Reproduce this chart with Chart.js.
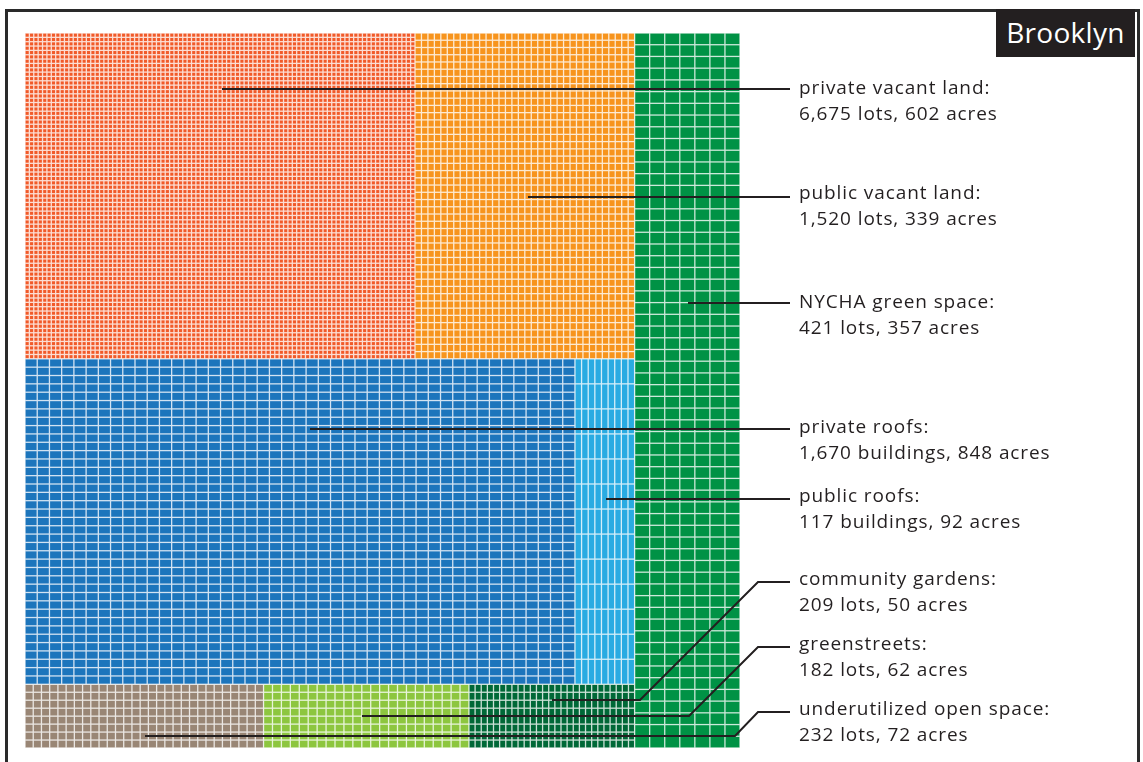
<!DOCTYPE html>
<html>
<head>
<meta charset="utf-8">
<script src="https://cdn.jsdelivr.net/npm/chart.js@4.4.1/dist/chart.umd.min.js"></script>
<style>
html, body { margin:0; padding:0; background:#fff; }
#wrap { position:relative; width:1143px; height:762px; overflow:hidden; }
#frame { position:absolute; left:5px; top:9px; width:1135px; height:800px; border:3px solid #2a2a2a; box-sizing:border-box; }
#title { position:absolute; left:996px; top:9px; width:139px; height:48px; background:#231f20; color:#fff;
  font:28px "Open Sans", sans-serif; line-height:46px; text-align:center; letter-spacing:0.3px; }
#chartBox { position:absolute; left:0; top:0; width:1143px; height:762px; }
</style>
</head>
<body>
<div id="wrap">
  <div id="frame"></div>
  <div id="chartBox"><canvas id="chart"></canvas></div>
  <div id="title">Brooklyn</div>
</div>
<script>
const CATEGORIES = ['private vacant land','public vacant land','NYCHA green space','private roofs','public roofs','community gardens','greenstreets','underutilized open space'];
const LOTS  = [6675, 1520, 421, 1670, 117, 209, 182, 232];
const UNITS = ['lots','lots','lots','buildings','buildings','lots','lots','lots'];
const ACRES = [602, 339, 357, 848, 92, 50, 62, 72];
// grid of small cells inside each block, as counted on the picture
const GRID_COLS = [89, 34, 7, 45, 9, 27, 23, 29];
const GRID_ROWS = [75, 45, 61, 39, 13, 8, 8, 8];
const COLORS = ['#F15A29','#F7941D','#009245','#1C75BC','#29ABE2','#006837','#8DC63F','#998675'];

// treemap structure: NYCHA is a full height column on the right, the rest stacked in rows
const SIDE_COLUMN = 2;
const ROWS = [[0, 1], [3, 4], [7, 6, 5]];

// callout layout (pixels): line start inside the block, optional bend, label text centre
const CALLOUTS = [
  { cat:0, pts:[[222,89],[790,89]], ty:89 },
  { cat:1, pts:[[528,197],[790,197]], ty:194 },
  { cat:2, pts:[[688,303],[790,303]], ty:303 },
  { cat:3, pts:[[310,429],[790,429]], ty:428 },
  { cat:4, pts:[[606,499],[790,499]], ty:497 },
  { cat:5, pts:[[552,700],[640,700],[758,582],[790,582]], ty:580 },
  { cat:6, pts:[[362,716],[689,716],[758,647],[790,647]], ty:645 },
  { cat:7, pts:[[145,736],[735,736],[758,712],[790,712]], ty:710 }
];

function layoutBlocks() {
  const total = ACRES.reduce((s, a) => s + a, 0);
  const rects = [];
  const leftW = 1 - ACRES[SIDE_COLUMN] / total;
  rects[SIDE_COLUMN] = { x0:leftW, x1:1, y0:0, y1:1 };
  const leftTotal = total - ACRES[SIDE_COLUMN];
  let y = 0;
  ROWS.forEach(row => {
    const rowSum = row.reduce((s, i) => s + ACRES[i], 0);
    const h = rowSum / leftTotal;
    let x = 0;
    row.forEach(i => {
      const w = ACRES[i] / rowSum * leftW;
      rects[i] = { x0:x, x1:x + w, y0:y, y1:y + h };
      x += w;
    });
    y += h;
  });
  return rects;
}

function cellsFor(i, r) {
  const cols = GRID_COLS[i], rows = GRID_ROWS[i];
  const w = (r.x1 - r.x0) / cols, h = (r.y1 - r.y0) / rows;
  const pts = [];
  for (let rw = 0; rw < rows; rw++)
    for (let c = 0; c < cols; c++)
      pts.push({ x:r.x0 + (c + 0.5) * w, y:r.y0 + (rw + 0.5) * h, w, h });
  return pts;
}

function tint(hex, k) {
  const n = parseInt(hex.slice(1), 16);
  const mix = v => Math.round(v + (255 - v) * k);
  return `rgb(${mix(n >> 16)},${mix((n >> 8) & 255)},${mix(n & 255)})`;
}

const BLOCKS = layoutBlocks();

const cellPlugin = {
  id:'cells',
  afterDatasetsDraw(chart) {
    const { ctx, scales:{ x, y } } = chart;
    chart.data.datasets.forEach(ds => {
      const r = ds.block;
      const bx0 = x.getPixelForValue(r.x0), bx1 = x.getPixelForValue(r.x1);
      const by0 = y.getPixelForValue(r.y0), by1 = y.getPixelForValue(r.y1);
      ctx.fillStyle = tint(ds.color, 0.8);
      ctx.fillRect(bx0, by0, bx1 - bx0, by1 - by0);
      ctx.fillStyle = ds.color;
      const g = 0.65;
      ds.data.forEach(p => {
        const px0 = x.getPixelForValue(p.x - p.w / 2), px1 = x.getPixelForValue(p.x + p.w / 2);
        const py0 = y.getPixelForValue(p.y - p.h / 2), py1 = y.getPixelForValue(p.y + p.h / 2);
        ctx.fillRect(px0 + g, py0 + g, px1 - px0 - 2 * g, py1 - py0 - 2 * g);
      });
    });
  },
  afterDraw(chart) {
    const ctx = chart.ctx;
    ctx.save();
    ctx.strokeStyle = '#231f20';
    ctx.lineWidth = 2;
    ctx.fillStyle = '#231f20';
    ctx.font = '19px "Open Sans", sans-serif';
    ctx.letterSpacing = '0.9px';
    ctx.textBaseline = 'middle';
    CALLOUTS.forEach(c => {
      ctx.beginPath();
      c.pts.forEach((p, k) => k ? ctx.lineTo(p[0], p[1]) : ctx.moveTo(p[0], p[1]));
      ctx.stroke();
      const i = c.cat;
      ctx.fillText(CATEGORIES[i] + ':', 799, c.ty);
      ctx.fillText(`${LOTS[i].toLocaleString('en-US')} ${UNITS[i]}, ${ACRES[i]} acres`, 799, c.ty + 26);
    });
    ctx.restore();
  }
};

new Chart(document.getElementById('chart'), {
  type:'scatter',
  data:{
    datasets:CATEGORIES.map((name, i) => ({
      label:name,
      data:cellsFor(i, BLOCKS[i]),
      block:BLOCKS[i],
      color:COLORS[i],
      pointRadius:0,
      pointHoverRadius:0
    }))
  },
  options:{
    responsive:true, maintainAspectRatio:false, animation:false, events:[],
    layout:{ padding:{ left:25, top:33, right:403, bottom:14 } },
    plugins:{ legend:{ display:false }, tooltip:{ enabled:false } },
    scales:{
      x:{ type:'linear', min:0, max:1, display:false },
      y:{ type:'linear', min:0, max:1, reverse:true, display:false }
    }
  },
  plugins:[cellPlugin]
});
</script>
</body>
</html>
